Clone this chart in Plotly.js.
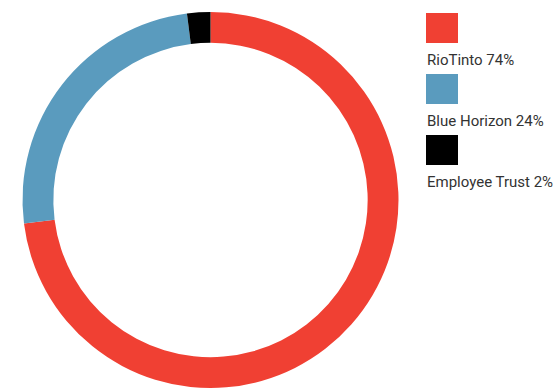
<!DOCTYPE html>
<html>
<head>
<meta charset="utf-8">
<script src="https://cdn.plot.ly/plotly-3.0.1.min.js"></script>
<style>html,body{margin:0;padding:0;background:#fff;}#chart{width:557px;height:389px;}</style>
</head>
<body>
<div id="chart"></div>
<script>
const labels = ["RioTinto", "Blue Horizon", "Employee Trust"];
const values = [73, 25, 2];
const legendText = ["RioTinto 74%", "Blue Horizon 24%", "Employee Trust 2%"];
const colors = ["#F04033", "#5A9BBE", "#000000"];

const W = 557, H = 389;
const trace = {
  type: "pie",
  labels: labels,
  values: values,
  hole: 0.836,
  sort: false,
  direction: "clockwise",
  rotation: 0,
  textinfo: "none",
  hoverinfo: "label+percent",
  marker: {colors: colors, line: {width: 0}},
  domain: {x: [22 / W, 399 / W], y: [1 - 388 / H, 1 - 12 / H]},
  showlegend: false
};

const shapes = [];
const annotations = [];
labels.forEach((l, i) => {
  const top = 13 + i * 61;
  shapes.push({
    type: "rect", xref: "paper", yref: "paper",
    x0: 426 / W, x1: 458 / W,
    y0: 1 - (top + 30) / H, y1: 1 - top / H,
    fillcolor: colors[i], line: {width: 0}
  });
  annotations.push({
    xref: "paper", yref: "paper",
    x: 425 / W, y: 1 - (top + 47) / H,
    xanchor: "left", yanchor: "middle",
    text: legendText[i], showarrow: false,
    font: {family: "Liberation Sans Narrow, Roboto, Arial", size: 15, color: "#333333"}
  });
});

const layout = {
  width: W, height: H,
  margin: {l: 0, r: 0, t: 0, b: 0},
  paper_bgcolor: "#ffffff",
  shapes: shapes,
  annotations: annotations
};
Plotly.newPlot("chart", [trace], layout, {displayModeBar: false, staticPlot: true});
</script>
</body>
</html>
